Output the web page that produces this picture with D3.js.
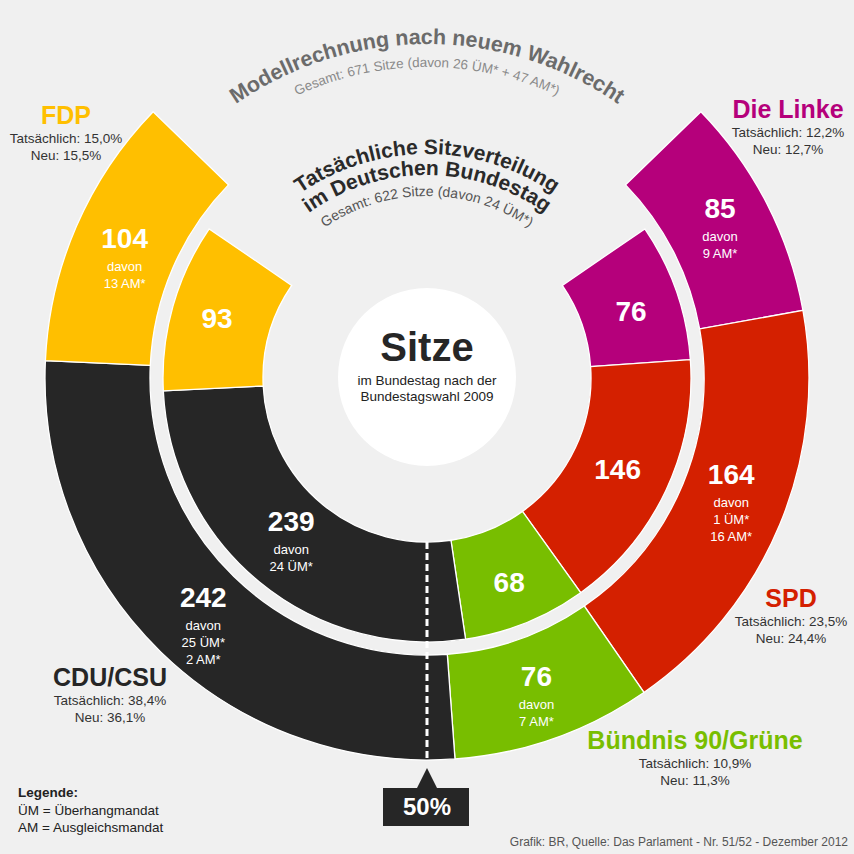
<!DOCTYPE html>
<html><head><meta charset="utf-8">
<script src="https://cdn.jsdelivr.net/npm/d3@7"></script>
<style>
html,body{margin:0;padding:0;background:#f0f0f0;}
svg{display:block;font-family:"Liberation Sans",Arial,sans-serif;}
</style></head><body>
<svg id="c" width="854" height="854"></svg>
<script>
// ---- data ----
const parties = ["Die Linke", "SPD", "Bündnis 90/Grüne", "CDU/CSU", "FDP"];
const partyColors = ["#b5007b", "#d42000", "#78be00", "#262626", "#ffbf00"];
const actualSeats = [76, 146, 68, 239, 93];
const modelSeats = [85, 164, 76, 242, 104];
const actualNotes = [[], [], [], ["davon", "24 ÜM*"], []];
const modelNotes = [["davon", "9 AM*"], ["davon", "1 ÜM*", "16 AM*"], ["davon", "7 AM*"], ["davon", "25 ÜM*", "2 AM*"], ["davon", "13 AM*"]];
const actualShare = ["12,2%", "23,5%", "10,9%", "38,4%", "15,0%"];
const newShare = ["12,7%", "24,4%", "11,3%", "36,1%", "15,5%"];
const actualTotal = 622, modelTotal = 671;
const titleOuter = "Modellrechnung nach neuem Wahlrecht";
const subOuter = "Gesamt: 671 Sitze (davon 26 ÜM* + 47 AM*)";
const titleInner1 = "Tatsächliche Sitzverteilung";
const titleInner2 = "im Deutschen Bundestag";
const subInner = "Gesamt: 622 Sitze (davon 24 ÜM*)";

// ---- layout ----
const svg = d3.select("#c");
const cx = 427, cy = 378;
const seatAngle = d3.scaleLinear().domain([0, 900]).range([0, 2 * Math.PI]);
const g = svg.append("g").attr("transform", `translate(${cx},${cy})`);

// small hand nudges of label blocks (layout only)
const outerNudge = [[0, 3], [0, 0], [0, 9], [6, 13], [0, 13]];
const innerNudge = [[2, 3], [-3, 0], [2, 6], [0, 0], [-4, -2]];

function ring(values, notes, r0, r1, total, nudge) {
  const span = seatAngle(total);
  const pie = d3.pie().sort(null).value(d => d)
    .startAngle(Math.PI - span / 2).endAngle(Math.PI + span / 2);
  const arcs = pie(values);
  const arc = d3.arc().innerRadius(r0).outerRadius(r1);
  g.selectAll(null).data(arcs).enter().append("path")
    .attr("d", arc)
    .attr("fill", (d, i) => partyColors[i])
    .attr("stroke", "#ffffff").attr("stroke-width", 1.3);
  const lab = g.selectAll(null).data(arcs).enter().append("g")
    .attr("transform", (d, i) => {
      const c = arc.centroid(d);
      const n = notes[i].length;
      const off = n === 0 ? -10 : (24 + 17 * (n - 1) + 3 - 20) / 2;
      return `translate(${c[0] + nudge[i][0]},${c[1] - off + nudge[i][1]})`;
    });
  lab.append("text").attr("text-anchor", "middle")
    .attr("fill", "#fff").attr("font-weight", "bold").attr("font-size", 28)
    .text(d => d.data);
  lab.each(function (d, i) {
    d3.select(this).selectAll(null).data(notes[i]).enter().append("text")
      .attr("text-anchor", "middle").attr("fill", "#fff").attr("font-size", 13)
      .attr("y", (t, j) => 23 + 17 * j).text(t => t);
  });
}
ring(modelSeats, modelNotes, 277, 382, modelTotal, outerNudge);
ring(actualSeats, actualNotes, 164, 264, actualTotal, innerNudge);

// 50% dashed line
g.append("line").attr("x1", 0).attr("y1", 164).attr("x2", 0).attr("y2", 382)
  .attr("stroke", "#fff").attr("stroke-width", 3).attr("stroke-dasharray", "7,4");

// centre circle
g.append("circle").attr("r", 89).attr("cy", -1).attr("fill", "#fff");
g.append("text").attr("text-anchor", "middle").attr("y", -17)
  .attr("font-weight", "bold").attr("font-size", 40).attr("fill", "#262626").text("Sitze");
g.append("text").attr("text-anchor", "middle").attr("y", 7)
  .attr("font-size", 13.5).attr("fill", "#222").text("im Bundestag nach der");
g.append("text").attr("text-anchor", "middle").attr("y", 23)
  .attr("font-size", 13.5).attr("fill", "#222").text("Bundestagswahl 2009");

// curved titles
const defs = svg.append("defs");
function curved(id, r, txt, size, weight, color) {
  defs.append("path").attr("id", id)
    .attr("d", `M${cx - r},${cy} A${r},${r} 0 0 1 ${cx + r},${cy}`);
  svg.append("text").attr("font-size", size).attr("font-weight", weight).attr("fill", color)
    .append("textPath").attr("href", "#" + id).attr("startOffset", "50%")
    .attr("text-anchor", "middle").text(txt);
}
curved("p1", 334, titleOuter, 21.5, "bold", "#6b6b6b");
curved("p2", 311, subOuter, 13.5, "normal", "#8a8a8a");
curved("p3", 224, titleInner1, 21, "bold", "#2a2a2a");
curved("p4", 203, titleInner2, 21, "bold", "#2a2a2a");
curved("p5", 182, subInner, 14, "normal", "#555");

// party labels
const labelPos = [[788, 118], [791, 607], [695, 749], [110, 686], [66, 124]];
parties.forEach((p, i) => {
  const [x, y] = labelPos[i];
  const lg = svg.append("g").attr("transform", `translate(${x},${y})`).attr("text-anchor", "middle");
  lg.append("text").attr("font-weight", "bold").attr("font-size", 25).attr("fill", partyColors[i]).text(p);
  lg.append("text").attr("y", 19).attr("font-size", 13.5).attr("fill", "#333").text("Tatsächlich: " + actualShare[i]);
  lg.append("text").attr("y", 36).attr("font-size", 13.5).attr("fill", "#333").text("Neu: " + newShare[i]);
});

// 50% marker
svg.append("path").attr("d", `M${cx},768 L${cx + 10},788 L469,788 L469,826 L383,826 L383,788 L${cx - 10},788 Z`)
  .attr("fill", "#262626");
svg.append("text").attr("x", cx).attr("y", 815).attr("text-anchor", "middle")
  .attr("font-weight", "bold").attr("font-size", 24).attr("fill", "#fff").text("50%");

// legend
const leg = svg.append("g").attr("font-size", 13.5).attr("fill", "#222");
leg.append("text").attr("x", 18).attr("y", 797).attr("font-weight", "bold").text("Legende:");
leg.append("text").attr("x", 18).attr("y", 815).text("ÜM = Überhangmandat");
leg.append("text").attr("x", 18).attr("y", 832).text("AM = Ausgleichsmandat");

// source
svg.append("text").attr("x", 848).attr("y", 846).attr("text-anchor", "end")
  .attr("font-size", 12).attr("fill", "#555")
  .text("Grafik: BR, Quelle: Das Parlament - Nr. 51/52 - Dezember 2012");
</script>
</body></html>
